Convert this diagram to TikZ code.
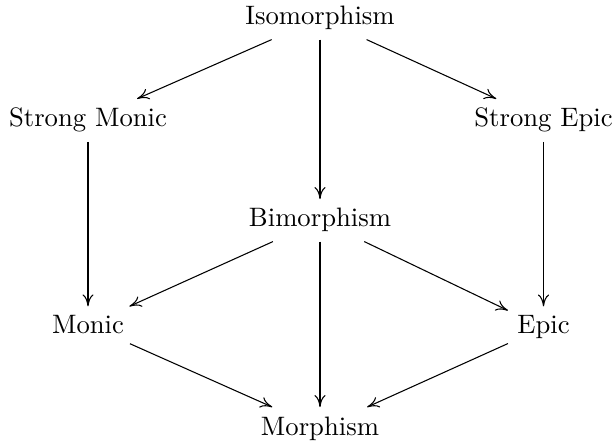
\documentclass[tikz,border=0pt]{standalone}
\usetikzlibrary{arrows.meta}
\begin{document}
\begin{tikzpicture}[x=0.375pt,y=-0.375pt,
  obj/.style={anchor=base,inner sep=3.333pt},
  arr/.style={-{To[length=4.5pt,width=4.2pt]},line width=0.4pt}]
\useasboundingbox (0,0) rectangle (615,443);
\node[obj] (iso) at (320,25) {Isomorphism};
\node[obj] (smon) at (88,127) {Strong Monic};
\node[obj] (sepi) at (543.5,127) {Strong Epic};
\node[obj] (bi) at (320,227) {Bimorphism};
\node[obj] (mon) at (88,334) {Monic};
\node[obj] (epi) at (543.5,334) {Epic};
\node[obj] (mor) at (320,435) {Morphism};
\draw[arr] (iso) -- (smon);
\draw[arr] (iso) -- (sepi);
\draw[arr] (iso) -- (bi);
\draw[arr] (smon) -- (mon);
\draw[arr] (sepi) -- (epi);
\draw[arr] (bi) -- (mon);
\draw[arr] (bi) -- (epi);
\draw[arr] (bi) -- (mor);
\draw[arr] (mon) -- (mor);
\draw[arr] (epi) -- (mor);
\end{tikzpicture}
\end{document}
